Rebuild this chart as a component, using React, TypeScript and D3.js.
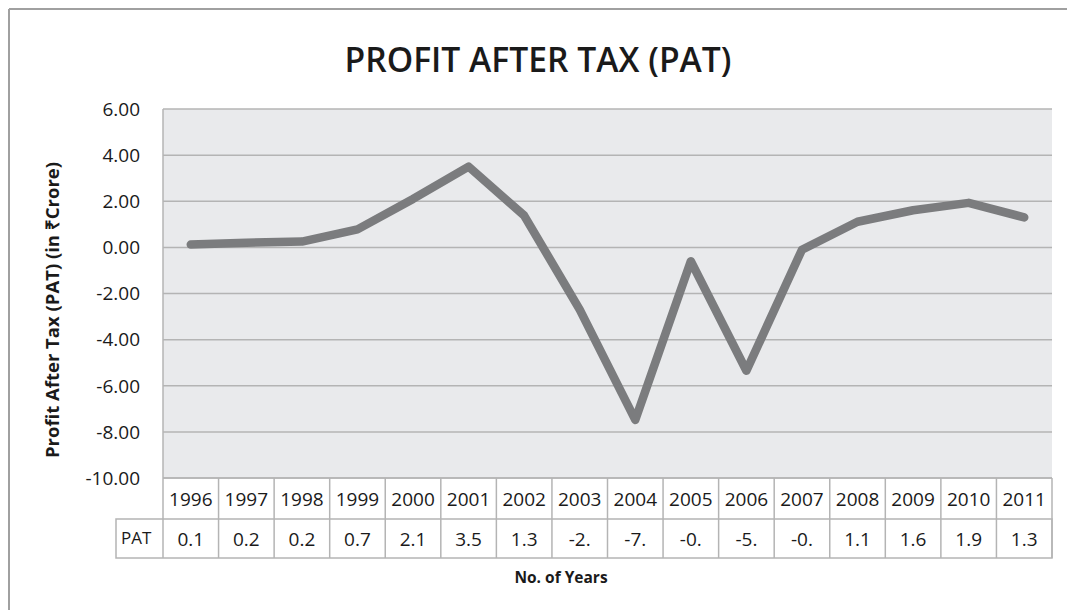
import {useEffect, useRef} from "react";
import * as d3 from "d3";

const years = ["1996","1997","1998","1999","2000","2001","2002","2003","2004","2005","2006","2007","2008","2009","2010","2011"];
const patValues = [0.12, 0.2, 0.25, 0.78, 2.1, 3.5, 1.38, -2.7, -7.48, -0.6, -5.35, -0.1, 1.11, 1.61, 1.93, 1.3];
const patLabels = ["0.1","0.2","0.2","0.7","2.1","3.5","1.3","-2.","-7.","-0.","-5.","-0.","1.1","1.6","1.9","1.3"];
const yTicks = [6, 4, 2, 0, -2, -4, -6, -8, -10];

function App()
{
    const myNode = useRef<HTMLDivElement>(null);

    useEffect(() => {
        const width = 1067;
        const height = 610;
        const left = 163, right = 1052, top = 109, bottom = 478;
        const row1 = 519, row2 = 558;
        const font = "'Open Sans', sans-serif";
        const gridColor = "#b4b4b4";
        const textColor = "#1a1a1a";

        d3.select(myNode.current).selectAll('*').remove();

        const svg = d3.select(myNode.current)
            .append('svg')
            .attr('width', width)
            .attr('height', height)
            .style('position', 'absolute')
            .style('left', 0)
            .style('top', 0)
            .style('background', '#fff');

        // outer frame: only top and left edges fall inside the picture
        svg.append('line')
            .attr('x1', 9).attr('x2', width).attr('y1', 9).attr('y2', 9)
            .attr('stroke', '#a0a0a0').attr('stroke-width', 2);
        svg.append('line')
            .attr('x1', 9).attr('x2', 9).attr('y1', 9).attr('y2', height)
            .attr('stroke', '#a0a0a0').attr('stroke-width', 2);

        const xScale = d3.scaleBand()
            .domain(years)
            .range([left, right])
            .padding(0);

        const yScale = d3.scaleLinear()
            .domain([-10, 6])
            .range([bottom, top]);

        svg.append('rect')
            .attr('x', left).attr('y', top)
            .attr('width', right - left).attr('height', bottom - top)
            .attr('fill', '#e9eaec');

        svg.append('g')
            .selectAll('line')
            .data(yTicks)
            .enter()
            .append('line')
            .attr('x1', left).attr('x2', right)
            .attr('y1', d => yScale(d)).attr('y2', d => yScale(d))
            .attr('stroke', gridColor)
            .attr('stroke-width', 1.5);

        // plot left edge
        svg.append('line')
            .attr('x1', left).attr('x2', left)
            .attr('y1', top).attr('y2', row2)
            .attr('stroke', gridColor).attr('stroke-width', 1.5);

        // y tick labels
        svg.append('g')
            .selectAll('text')
            .data(yTicks)
            .enter()
            .append('text')
            .attr('x', 140)
            .attr('y', d => yScale(d))
            .attr('dy', '0.36em')
            .attr('text-anchor', 'end')
            .attr('font-family', font)
            .attr('font-size', 19)
            .attr('fill', textColor)
            .text(d => d.toFixed(2));

        // data table
        const table = svg.append('g');
        table.append('rect')
            .attr('x', 116).attr('y', row1)
            .attr('width', right - 116).attr('height', row2 - row1)
            .attr('fill', 'none').attr('stroke', gridColor).attr('stroke-width', 1.5);
        table.append('line')
            .attr('x1', left).attr('x2', right)
            .attr('y1', bottom).attr('y2', bottom)
            .attr('stroke', gridColor).attr('stroke-width', 1.5);
        table.selectAll('line.col')
            .data(years)
            .enter()
            .append('line')
            .attr('class', 'col')
            .attr('x1', d => xScale(d)! + xScale.bandwidth())
            .attr('x2', d => xScale(d)! + xScale.bandwidth())
            .attr('y1', bottom).attr('y2', row2)
            .attr('stroke', gridColor).attr('stroke-width', 1.5);

        table.selectAll('text.year')
            .data(years)
            .enter()
            .append('text')
            .attr('class', 'year')
            .attr('x', d => xScale(d)! + xScale.bandwidth() / 2)
            .attr('y', 506)
            .attr('text-anchor', 'middle')
            .attr('font-family', font)
            .attr('font-size', 19)
            .attr('fill', textColor)
            .text(d => d);

        table.selectAll('text.val')
            .data(patLabels)
            .enter()
            .append('text')
            .attr('class', 'val')
            .attr('x', (d, i) => xScale(years[i])! + xScale.bandwidth() / 2)
            .attr('y', 546)
            .attr('text-anchor', 'middle')
            .attr('font-family', font)
            .attr('font-size', 19)
            .attr('fill', textColor)
            .text(d => d);

        table.append('text')
            .attr('x', 121).attr('y', 544)
            .attr('font-family', font)
            .attr('font-size', 17)
            .attr('fill', textColor)
            .text('PAT');

        // the series
        const line = d3.line<number>()
            .x((d, i) => xScale(years[i])! + xScale.bandwidth() / 2)
            .y(d => yScale(d));

        svg.append('path')
            .datum(patValues)
            .attr('d', line)
            .attr('fill', 'none')
            .attr('stroke', '#7b7c7e')
            .attr('stroke-width', 8.5)
            .attr('stroke-linejoin', 'round')
            .attr('stroke-linecap', 'round');

        // titles
        svg.append('text')
            .attr('x', 538).attr('y', 72)
            .attr('text-anchor', 'middle')
            .attr('font-family', font)
            .attr('font-size', 34)
            .attr('font-weight', 600)
            .attr('textLength', 387)
            .attr('lengthAdjust', 'spacingAndGlyphs')
            .attr('fill', textColor)
            .text('PROFIT AFTER TAX (PAT)');

        svg.append('text')
            .attr('x', 561).attr('y', 583)
            .attr('text-anchor', 'middle')
            .attr('font-family', font)
            .attr('font-size', 15.5)
            .attr('font-weight', 'bold')
            .attr('fill', textColor)
            .text('No. of Years');

        svg.append('text')
            .attr('transform', 'translate(59,310) rotate(-90)')
            .attr('text-anchor', 'middle')
            .attr('font-family', font)
            .attr('font-size', 18.5)
            .attr('font-weight', 'bold')
            .attr('fill', textColor)
            .text('Profit After Tax (PAT) (in \u20B9Crore)');
    }, []);

    return (
        <div ref={myNode} className='pat-chart'>
        </div>
    );
}

export default App;
